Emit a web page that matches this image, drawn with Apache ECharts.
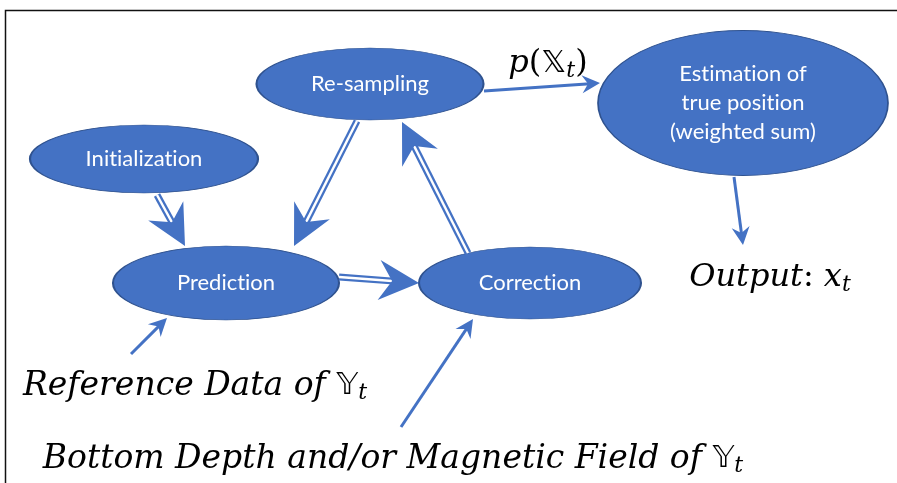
<!DOCTYPE html>
<html lang="en">
  <head>
    <meta charset="UTF-8" />
    <title>Particle filter flow</title>
    <script src="https://cdn.jsdelivr.net/npm/echarts@6/dist/echarts.min.js"></script>
    <style>
      html, body { margin: 0; padding: 0; background: #fff; }
      #main { width: 897px; height: 483px; }
    </style>
  </head>
  <body>
    <div id="main"></div>

    <script>
      // diagram units follow the picture: x to the right, y downward
      const nodeNames = ['Re-sampling', 'Initialization', 'Prediction', 'Correction', 'Estimation of\ntrue position\n(weighted sum)'];
      const nodeX = [370, 144, 226, 530, 743];
      const nodeY = [84, 159, 283, 283, 103];
      const nodeW = [227, 228, 226, 222, 290];
      const nodeH = [72, 68, 74, 72, 145];

      const arrowFrom = [[157, 195], [357, 121], [339, 277], [468, 253], [484, 91], [734, 177], [131, 354], [401, 427]];
      const arrowTo = [[185, 246], [294, 246], [419, 283], [402, 122], [600, 83], [743, 245], [167, 318], [473, 319]];
      const arrowKind = ['double', 'double', 'double', 'double', 'single', 'single', 'single', 'single'];

      const noteTexts = [
        '{i|p}{n|(}{d|𝕏}{s|t}{n|)}',
        '{i|Output}{n|: }{i|x}{s|t}',
        '{w|Reference Data of }{d|𝕐}{s|t}',
        '{w|Bottom Depth and/or Magnetic Field of }{d|𝕐}{s|t}',
      ];
      const noteX = [548, 770, 195, 393];
      const noteY = [64, 278, 386, 459];

      const blue = '#4472C4';

      function renderArrow(params, api) {
        const a = api.coord([api.value(0), api.value(1)]);
        const b = api.coord([api.value(2), api.value(3)]);
        const dbl = arrowKind[params.dataIndex] === 'double';
        const dx = b[0] - a[0];
        const dy = b[1] - a[1];
        const len = Math.hypot(dx, dy);
        const ux = dx / len, uy = dy / len;
        const nx = -uy, ny = ux;
        const headL = dbl ? 40 : 18;
        const headW = dbl ? 20 : 9;
        const notch = dbl ? 27 : 12;
        const wx = b[0] - ux * headL, wy = b[1] - uy * headL;
        const cx = b[0] - ux * notch, cy = b[1] - uy * notch;
        const children = [
          {
            type: 'line',
            shape: { x1: a[0], y1: a[1], x2: cx + ux * 2, y2: cy + uy * 2 },
            style: { stroke: blue, lineWidth: dbl ? 7 : 3 },
          },
        ];
        if (dbl) {
          children.push({
            type: 'line',
            shape: { x1: a[0], y1: a[1], x2: cx, y2: cy },
            style: { stroke: '#fff', lineWidth: 2.4 },
          });
        }
        children.push({
          type: 'polygon',
          shape: {
            points: [
              [b[0], b[1]],
              [wx + nx * headW, wy + ny * headW],
              [cx, cy],
              [wx - nx * headW, wy - ny * headW],
            ],
          },
          style: { fill: blue },
        });
        return { type: 'group', children: children };
      }

      const mathFont = 'DejaVu Serif';
      const options = {
        animation: false,
        grid: { left: 0, right: 0, top: 0, bottom: 0 },
        xAxis: { type: 'value', min: 0, max: 897, show: false },
        yAxis: { type: 'value', min: 0, max: 483, inverse: true, show: false },
        graphic: [
          {
            type: 'polyline',
            shape: { points: [[5.5, 483], [5.5, 10.5], [897, 10.5]] },
            style: { stroke: '#111', lineWidth: 1.5, fill: null },
          },
        ],
        series: [
          {
            type: 'scatter',
            z: 2,
            symbol: 'circle',
            itemStyle: { color: blue, opacity: 1, borderColor: '#2F528F', borderWidth: 1.2 },
            label: {
              show: true,
              position: 'inside',
              color: '#fff',
              fontFamily: 'Lato',
              fontSize: 22,
              lineHeight: 29,
              // keep "t" and "i" as separate glyphs, as in the source
              formatter: (p) => p.name.replace(/ti/g, 't\u200Ci'),
            },
            emphasis: { disabled: true },
            data: nodeNames.map((n, i) => ({
              name: n,
              value: [nodeX[i], nodeY[i]],
              symbolSize: [nodeW[i], nodeH[i]],
            })),
          },
          {
            type: 'custom',
            z: 3,
            renderItem: renderArrow,
            encode: { x: [0, 2], y: [1, 3] },
            data: arrowFrom.map((f, i) => [f[0], f[1], arrowTo[i][0], arrowTo[i][1]]),
          },
          {
            type: 'scatter',
            z: 4,
            symbol: 'circle',
            symbolSize: 1,
            itemStyle: { color: 'rgba(0,0,0,0)', opacity: 1 },
            label: {
              show: true,
              position: 'inside',
              formatter: (p) => noteTexts[p.dataIndex],
              color: '#000',
              rich: {
                i: { fontFamily: mathFont, fontStyle: 'italic', fontSize: 32, color: '#000' },
                n: { fontFamily: mathFont, fontSize: 32, color: '#000' },
                w: { fontFamily: mathFont, fontStyle: 'italic', fontSize: 33, color: '#000' },
                d: { fontFamily: 'DejaVu Sans', fontSize: 31, color: '#000' },
                s: { fontFamily: mathFont, fontStyle: 'italic', fontSize: 22, color: '#000', padding: [14, 0, 0, 0] },
              },
            },
            emphasis: { disabled: true },
            data: noteX.map((x, i) => [x, noteY[i]]),
          },
        ],
      };

      const myChart = echarts.init(document.getElementById('main'));
      myChart.setOption(options);

      window.onresize = function () {
        myChart.resize();
      };
    </script>
  </body>
</html>
